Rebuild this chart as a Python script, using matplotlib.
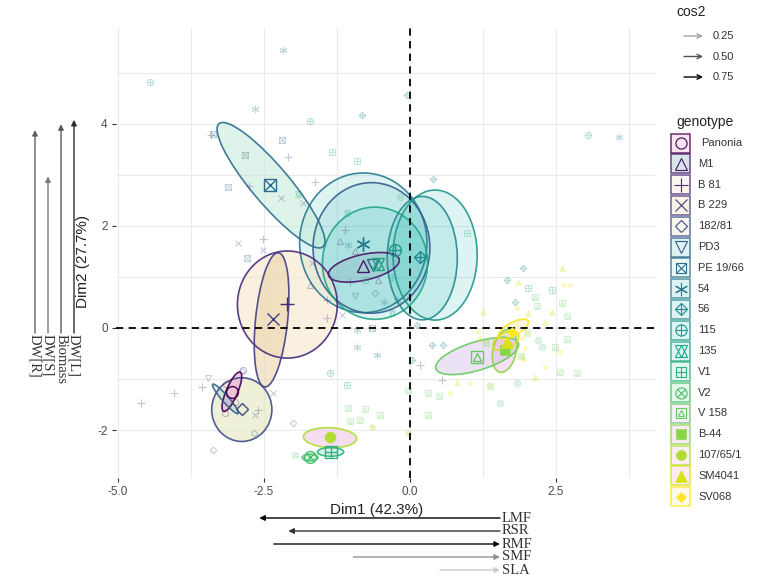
import numpy as np
import matplotlib.pyplot as plt
from matplotlib.patches import Ellipse, Rectangle, FancyArrowPatch

plt.rcParams['font.family'] = ['Liberation Sans', 'DejaVu Sans']

# genotypes and their group means on Dim1 / Dim2
genotypes = ['Panonia', 'M1', 'B 81', 'B 229', '182/81', 'PD3', 'PE 19/66', '54', '56',
             '115', '135', 'V1', 'V2', 'V 158', 'B-44', '107/65/1', 'SM4041', 'SV068']
mean_x = [-3.05, -0.80, -2.10, -2.35, -2.88, -0.64, -2.40, -0.80, 0.17,
          -0.26, -0.55, -1.36, -1.71, 1.15, 1.63, -1.37, 1.66, 1.75]
mean_y = [-1.25, 1.22, 0.47, 0.17, -1.59, 1.24, 2.80, 1.65, 1.39,
          1.53, 1.25, -2.43, -2.53, -0.57, -0.43, -2.14, -0.27, -0.08]

# individual plants (Dim1, Dim2)
ind_pts = {
    'Panonia': [(-2.86, -0.82), (-3.17, -1.67), (-3.0, -1.45), (-3.15, -1.1)],
    'M1': [(-1.20, 1.71), (-1.71, 0.84), (-0.55, 0.95), (-0.95, 1.5)],
    'B 81': [(-3.40, 3.78), (-2.76, 2.78), (-2.52, 1.75), (-2.09, 3.35), (-1.63, 2.86),
             (-1.11, 1.92), (-1.03, 0.90), (-1.42, 0.55), (-1.42, 0.20), (-3.56, -1.16),
             (-4.04, -1.27), (-4.61, -1.47), (-2.6, -1.61), (0.17, -0.73), (0.55, -1.02)],
    'B 229': [(-2.21, 2.55), (-2.95, 1.67), (-2.52, 1.53), (-1.83, 2.45), (-1.68, 1.27),
              (-2.35, -1.27), (-2.65, -1.71), (-1.16, 0.25)],
    '182/81': [(-2.88, -0.84), (-2.67, -2.06), (-3.37, -2.39), (-2.0, -1.86), (-0.6, 0.69)],
    'PD3': [(-3.46, -0.98), (-0.95, 0.62)],
    'PE 19/66': [(-3.37, 3.80), (-2.83, 3.39), (-3.12, 2.77), (-2.19, 3.69), (-0.65, 0.0),
                 (-2.79, 1.37)],
    '54': [(-2.65, 4.29), (-2.17, 5.45), (-1.06, 1.63), (-0.45, 0.51), (-0.22, 0.55),
           (-0.91, -0.04), (-0.91, -0.37), (-0.57, -0.53), (3.58, 3.75)],
    '56': [(-0.05, 4.57), (-0.82, 4.18), (0.39, 2.92), (0.12, 0.06), (0.38, -0.33),
           (0.56, -0.33), (0.03, -0.63), (1.94, 1.18), (1.66, 0.94), (1.80, 0.51)],
    '115': [(-4.45, 4.82), (-1.71, 4.06), (-1.37, -0.88), (3.05, 3.78), (-0.3, 1.0)],
    '135': [(-1.92, 2.62), (-0.3, 0.3), (-1.08, 2.25)],
    'V1': [(-1.34, 3.45), (-0.91, 3.27), (0.98, 1.86), (-0.77, 0.94), (2.43, 0.75),
           (2.02, 0.78), (-1.08, -1.12)],
    'V2': [(-1.97, -2.49), (2.19, -0.24), (2.26, -0.37), (1.83, -1.08), (1.54, -1.47),
           (-0.17, 2.57)],
    'V 158': [(-1.06, -1.57), (-0.77, -1.59), (-0.51, -1.71), (-1.03, -1.82), (-0.86, -1.80),
              (-0.03, -1.22), (0.31, -1.27), (0.50, -1.33), (0.31, -1.71), (2.14, 0.61),
              (2.17, 0.43), (2.6, 0.49), (2.69, 0.24), (2.69, -0.22), (2.48, -0.37),
              (2.57, -0.86), (2.86, -0.88)],
    'B-44': [(1.37, -1.14), (1.9, -0.55), (2.0, -0.1), (1.3, -0.3)],
    '107/65/1': [(-0.65, -1.94), (-0.03, -2.06)],
    'SM4041': [(1.85, 0.90), (2.02, 0.29), (1.25, 0.31), (2.31, 0.12), (1.93, -0.59),
               (2.14, -0.96), (2.6, 1.18), (2.43, 0.31), (1.2, -0.2), (0.8, -1.06)],
    'SV068': [(1.83, 0.39), (1.16, -0.08), (1.97, -0.39), (2.31, -0.76), (1.03, -1.08),
              (2.62, 0.84), (2.74, 0.84), (2.57, -0.47), (1.92, -0.2), (0.68, -1.27)],
}

# confidence ellipses: group, centre, width, height, angle
ell_geno = ['54', 'PD3', '115', '135', '56', 'M1', 'PE 19/66', 'B 81', 'B 229', '182/81',
            'Panonia', 'PD3', 'V 158', 'B-44', 'SM4041', 'SV068', '107/65/1', 'V1', 'V2']
ell_x = [-0.80, -0.66, 0.43, -0.60, 0.21, -0.79, -2.38, -2.10, -2.37, -2.88,
         -3.05, -3.16, 1.15, 1.62, 1.64, 1.77, -1.37, -1.36, -1.71]
ell_y = [1.67, 1.57, 1.43, 1.27, 1.37, 1.19, 2.80, 0.46, 0.16, -1.60,
         -1.25, -1.39, -0.55, -0.45, -0.25, -0.02, -2.15, -2.43, -2.54]
ell_w = [2.18, 2.00, 1.44, 1.80, 1.20, 1.25, 3.00, 1.71, 2.64, 1.03,
         0.82, 0.72, 1.50, 0.85, 0.50, 0.60, 0.91, 0.45, 0.27]
ell_h = [2.74, 2.56, 2.55, 2.20, 2.42, 0.50, 0.68, 2.10, 0.55, 1.25,
         0.20, 0.12, 0.55, 0.40, 0.30, 0.25, 0.39, 0.17, 0.13]
ell_ang = [0, 0, 0, 0, 0, 15, -54, 0, 85, 0,
           70, -53, 20, 80, 35, 33, -3, 0, 0]

# variable loadings and cos2
dim1_vars = ['LMF', 'RSR', 'RMF', 'SMF', 'SLA']
dim1_load = [-0.83, -0.73, 0.78, 0.505, 0.207]
dim1_cos2 = [0.76, 0.60, 0.72, 0.30, 0.12]
dim2_vars = ['DW[R]', 'DW[S]', 'Biomass', 'DW[L]']
dim2_load = [0.70, 0.54, 0.72, 0.735]
dim2_cos2 = [0.46, 0.38, 0.48, 0.62]
cos2_levels = [0.25, 0.50, 0.75]

shapes = ['o', '^', '+', 'x', 'D', 'v', 'sx', 'ast', 'D+', 'o+', 'star', 's+', 'ox', 's^',
          'S', 'O', 'T', 'd']
cols = plt.cm.viridis(np.linspace(0, 1, len(genotypes)))
fills = ['#e9a8d4', '#7fa9b8', '#f5e6cc', '#ecd6aa', '#e3e8bf', '#3fb5bc', '#bfe9d5',
         '#3ec0bc', '#3ec0bc', '#3ec0bc', '#3ec0bc', '#a6e3d4', '#a8e6b8', '#dccbf0',
         '#e8b8e6', '#f0c4e4', '#f2c2d8', '#f6ecb0']
fill_a = [0.6, 0.3, 0.6, 0.6, 0.6, 0.17, 0.5, 0.17, 0.17, 0.17, 0.17, 0.5, 0.5, 0.55,
          0.45, 0.55, 0.45, 0.5]

parts = {
    'o': [('o', 1.0)], '^': [('^', 1.0)], '+': [('+', 1.2)], 'x': [('x', 1.0)],
    'D': [('D', 0.75)], 'v': [('v', 1.0)], 'sx': [('s', 0.95), ('x', 0.95)],
    'ast': [((6, 2, 0), 1.2)], 'D+': [('D', 0.75), ('+', 1.06)],
    'o+': [('o', 1.0), ('+', 1.0)], 'star': [('^', 1.0), ('v', 1.0)],
    's+': [('s', 0.95), ('+', 0.95)], 'ox': [('o', 1.0), ('x', 0.7)],
    's^': [('s', 0.95), ('^', 0.6)],
}
solid = {'S': ('s', 0.9), 'O': ('o', 0.9), 'T': ('^', 1.0), 'd': ('D', 0.6)}


def mark(ax, x, y, shape, col, ms, lw, alpha=1.0, z=5):
    if shape in solid:
        m, f = solid[shape]
        ax.plot(x, y, ls='none', marker=m, ms=ms * f, mfc=col, mec=col, mew=lw * 0.5,
                alpha=alpha, zorder=z)
        return
    for m, f in parts[shape]:
        ax.plot(x, y, ls='none', marker=m, ms=ms * f, mfc='none', mec=col, mew=lw,
                alpha=alpha, zorder=z)


def grey(c):
    g = float(np.clip(0.95 - 1.25 * c, 0, 1))
    return (g, g, g)


fig = plt.figure(figsize=(7.66, 5.83), dpi=100)
W, H = 766, 583
ax = fig.add_axes([116 / W, 1 - 478 / H, 539 / W, 450 / H])

for g, cx, cy, w, h, a in zip(ell_geno, ell_x, ell_y, ell_w, ell_h, ell_ang):
    i = genotypes.index(g)
    ax.add_patch(Ellipse((cx, cy), w, h, angle=a, facecolor=fills[i], alpha=fill_a[i],
                         edgecolor='none', zorder=1))
    ax.add_patch(Ellipse((cx, cy), w, h, angle=a, facecolor='none', edgecolor=cols[i],
                         lw=1.2, alpha=0.9, zorder=2))

for i, g in enumerate(genotypes):
    pts = np.array(ind_pts[g])
    mark(ax, pts[:, 0], pts[:, 1], shapes[i], cols[i], 4.5, 0.8, alpha=0.28, z=3)

ax.axhline(0, color='black', lw=1.3, ls=(0, (4, 3)), zorder=4)
ax.axvline(0, color='black', lw=1.3, ls=(0, (4, 3)), zorder=4)

for i, g in enumerate(genotypes):
    mark(ax, mean_x[i], mean_y[i], shapes[i], cols[i], 8.5, 1.0, z=6)

ax.set_xlim(-5.034, 4.195)
ax.set_ylim(-2.941, 5.882)
ax.set_xticks([-5, -2.5, 0, 2.5])
ax.set_xticklabels(['-5.0', '-2.5', '0.0', '2.5'])
ax.set_xticks([-3.75, -1.25, 1.25, 3.75], minor=True)
ax.set_yticks([-2, 0, 2, 4])
ax.set_yticklabels(['-2', '0', '2', '4'])
ax.set_yticks([-1, 1, 3, 5], minor=True)
ax.grid(True, which='both', color='#ebebeb', lw=0.8, zorder=0)
ax.set_axisbelow(True)
for s in ax.spines.values():
    s.set_visible(False)
ax.tick_params(which='major', length=3, width=0.8, color='#333333', labelsize=8.5,
               labelcolor='#4d4d4d', pad=3)
ax.tick_params(which='minor', length=0)
ax.set_xlabel('Dim1 (42.3%)', fontsize=11, color='#222222')
ax.xaxis.set_label_coords(0.484, -0.055)
ax.set_ylabel('Dim2 (27.7%)', fontsize=11, color='#222222')
ax.yaxis.set_label_coords(-0.048, 0.48)

# Dim1 loadings drawn under the x axis
axb = fig.add_axes([240 / W, 1 - 580 / H, 280 / W, 70 / H])
axb.set_xlim(-260 / 290, 20 / 290)
axb.set_ylim(62 / 13, -8 / 13)
axb.axis('off')
for k, (v, c, name) in enumerate(zip(dim1_load, dim1_cos2, dim1_vars)):
    x0, x1 = (0, v) if v < 0 else (-v, 0)
    axb.add_patch(FancyArrowPatch((x0, k), (x1, k), arrowstyle='-|>', mutation_scale=8,
                                  lw=1.0, color=grey(c), shrinkA=0, shrinkB=0))
    axb.text(0.006, k, name, ha='left', va='center', fontsize=10.5,
             family='Liberation Serif', color='#333333')

# Dim2 loadings drawn left of the y axis
axl = fig.add_axes([25 / W, 1 - 400 / H, 60 / W, 290 / H])
axl.set_xlim(-10 / 13, 50 / 13)
axl.set_ylim(-67 / 290, 223 / 290)
axl.axis('off')
for k, (v, c, name) in enumerate(zip(dim2_load, dim2_cos2, dim2_vars)):
    axl.add_patch(FancyArrowPatch((k, 0), (k, v), arrowstyle='-|>', mutation_scale=8,
                                  lw=1.0, color=grey(c), shrinkA=0, shrinkB=0))
    axl.text(k, -0.005, name, ha='center', va='top', rotation=270, fontsize=10.5,
             family='Liberation Serif', color='#333333')

# legends
lg = fig.add_axes([0, 0, 1, 1], facecolor='none')
lg.set_xlim(0, W)
lg.set_ylim(H, 0)
lg.axis('off')
lg.text(676, 12, 'cos2', fontsize=10, va='center', color='#222222')
for k, c in enumerate(cos2_levels):
    yy = 36 + 20.5 * k
    lg.add_patch(FancyArrowPatch((684, yy), (703, yy), arrowstyle='->', mutation_scale=8,
                                 lw=1.0, color=grey(c), shrinkA=0, shrinkB=0))
    lg.text(713, yy, f'{c:.2f}', fontsize=8, va='center', color='#333333')

lg.text(676, 122, 'genotype', fontsize=10, va='center', color='#222222')
for i, g in enumerate(genotypes):
    yc = 143 + 20.8 * i
    lg.add_patch(Rectangle((671, yc - 9.5), 19, 19, facecolor=fills[i],
                           alpha=min(fill_a[i], 0.3), edgecolor='none'))
    lg.add_patch(Rectangle((671, yc - 9.5), 19, 19, facecolor='none', edgecolor=cols[i],
                           lw=1.1, alpha=0.8))
    mark(lg, 680.5, yc, shapes[i], cols[i], 8, 0.8, z=6)
    lg.text(698 if g != 'Panonia' else 701, yc, g, fontsize=8, va='center',
            color='#333333')

fig.savefig('out.png', dpi=100)
